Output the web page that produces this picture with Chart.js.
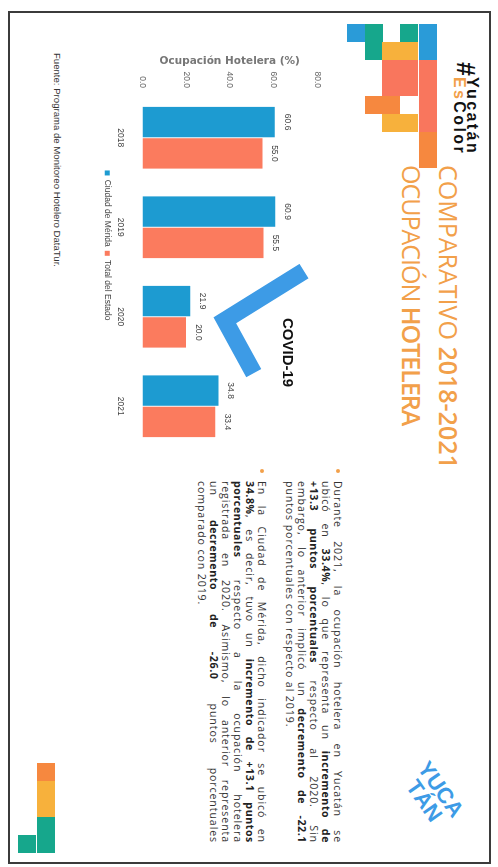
<!DOCTYPE html>
<html>
<head>
<meta charset="utf-8">
<script src="https://cdn.jsdelivr.net/npm/chart.js@4.4.0/dist/chart.umd.min.js"></script>
<style>
html, body { margin: 0; padding: 0; background: #fff; width: 498px; height: 867px; overflow: hidden; }
/* the sheet is laid out landscape, then turned a quarter clockwise like the scan */
#page { position: absolute; left: 0; top: 0; width: 867px; height: 498px; background: #fff;
  transform-origin: 0 0; transform: translate(498px, 0) rotate(90deg); font-family: 'Open Sans', sans-serif; }
#frame { position: absolute; left: 11px; top: 7px; width: 849px; height: 479px; border: 2px solid #3b3b3b; }
.cell { position: absolute; width: 18px; height: 18px; }
#tag { position: absolute; left: 62px; top: 19px; display: flex; align-items: center; font-family: 'Liberation Sans Narrow', 'Liberation Sans', Arial, sans-serif; font-weight: bold; color: #111; }
#tag .hash { font-size: 25px; line-height: 25px; margin-right: 1px; }
#tag .lines { font-size: 16px; line-height: 13px; letter-spacing: 2.4px; }
#tag .es { color: #f2a04a; }
#title { position: absolute; left: 165px; top: 31px; color: #f2a04a; font-size: 25px; line-height: 37px; white-space: nowrap; }
#title b { font-weight: 600; }
#title .l2 { letter-spacing: -1px; }
.para { position: absolute; left: 469px; width: 374px; font-size: 10.6px; line-height: 12px; color: #333; letter-spacing: 0.9px; }
.para .dot { position: absolute; left: 0; top: 4px; width: 4px; height: 4px; border-radius: 2px; background: #f2a04a; }
.para .ln { margin-left: 12px; text-align: justify; text-align-last: justify; white-space: nowrap; }
.para .ln.end { text-align-last: left; }
.para b { font-weight: bold; color: #222; letter-spacing: 0.6px; }
#source { position: absolute; left: 53px; top: 435px; font-family: 'Liberation Sans', Arial, sans-serif; font-size: 9.6px; color: #333; }
#chartBox { position: absolute; left: 40px; top: 165px; width: 430px; height: 240px; }
#yuc { position: absolute; left: 766px; top: 44px; width: 70px; height: 60px; color: #3d9be6; font-family: 'Liberation Sans', Arial, sans-serif; font-weight: bold; font-size: 22px; line-height: 20px; transform: rotate(-35deg); text-align: center; }
</style>
</head>
<body>
<div id="page">
  <div id="frame"></div>
  <div id="blocks"></div>
  <div id="tag"><span class="hash">#</span><span class="lines">Yucatán<br><span class="es">Es</span>Color</span></div>
  <div id="title">COMPARATIVO <b>2018-2021</b><br><span class="l2">OCUPACIÓN <b>HOTELERA</b></span></div>

  <div class="para" style="top:154px">
    <div class="dot"></div>
    <div class="ln">Durante 2021, la ocupación hotelera en Yucatán se</div>
    <div class="ln">ubicó en <b>33.4%</b>, lo que representa un <b>incremento de</b></div>
    <div class="ln"><b>+13.3 puntos porcentuales</b> respecto al 2020. Sin</div>
    <div class="ln">embargo, lo anterior implicó un <b>decremento de -22.1</b></div>
    <div class="ln end">puntos porcentuales con respecto al 2019.</div>
  </div>
  <div class="para" style="top:230px">
    <div class="dot"></div>
    <div class="ln">En la Ciudad de Mérida, dicho indicador se ubicó en</div>
    <div class="ln"><b>34.8%</b>, es decir, tuvo un <b>incremento de +13.1 puntos</b></div>
    <div class="ln"><b>porcentuales</b> respecto a la ocupación hotelera</div>
    <div class="ln">registrada en 2020. Asimismo, lo anterior representa</div>
    <div class="ln">un <b>decremento de -26.0</b> puntos porcentuales</div>
    <div class="ln end">comparado con 2019.</div>
  </div>

  <div id="chartBox"><canvas id="chart" width="430" height="240"></canvas></div>
  <div id="source">Fuente: Programa de Monitoreo Hotelero DataTur.</div>
  <div id="yuc">YUCA<br>TÁN</div>
</div>

<script>
// Chart data
const years = ['2018', '2019', '2020', '2021'];
const merida = [60.6, 60.9, 21.9, 34.8];
const estado = [55.0, 55.5, 20.0, 33.4];
const seriesNames = ['Ciudad de Mérida', 'Total del Estado'];
const axisTitle = 'Ocupación Hotelera (%)';
// covid mark, in chart units (category index, percent)
const covidPath = [[1.49, 74], [2.04, 37.7], [2.63, 51]];
const covidText = 'COVID-19';
const covidTextAt = [2.4, 66.5];

// Decorative squares (logo top and corner bottom)
const blue = '#2a9bd8', green = '#16a78c', yellow = '#f7b13c', salmon = '#f9765d', orange = '#f6883f';
const blocks = [
  [24, 133, blue], [24, 115, green], [24, 80, green], [24, 61, blue],
  [42, 115, green], [42, 98, yellow], [42, 80, yellow], [42, 61, blue],
  [60, 98, salmon], [60, 80, salmon], [60, 61, salmon],
  [78, 98, salmon], [78, 80, salmon], [78, 61, salmon],
  [96, 115, orange], [96, 98, orange], [96, 61, salmon],
  [114, 98, yellow], [114, 80, yellow], [114, 61, salmon],
  [132, 61, orange], [150, 61, orange],
  [763, 443, orange], [781, 443, yellow], [799, 443, yellow],
  [817, 443, green], [835, 443, green], [835, 462, green]
];
const holder = document.getElementById('blocks');
blocks.forEach(b => {
  const d = document.createElement('div');
  d.className = 'cell';
  d.style.left = b[0] + 'px';
  d.style.top = b[1] + 'px';
  d.style.background = b[2];
  holder.appendChild(d);
});

// value labels on top of the bars
const valueLabels = {
  id: 'valueLabels',
  afterDatasetsDraw(chart) {
    const ctx = chart.ctx;
    ctx.save();
    ctx.font = '8.5px "Liberation Sans Narrow", "Liberation Sans", Arial';
    ctx.fillStyle = '#444';
    ctx.textAlign = 'center';
    ctx.textBaseline = 'bottom';
    chart.data.datasets.forEach((ds, i) => {
      chart.getDatasetMeta(i).data.forEach((bar, j) => {
        ctx.fillText(ds.data[j].toFixed(1), bar.x, bar.y - 8);
      });
    });
    ctx.restore();
  }
};

// the blue covid check mark
const covidMark = {
  id: 'covidMark',
  afterDatasetsDraw(chart) {
    const ctx = chart.ctx;
    const x = chart.scales.x, y = chart.scales.y;
    ctx.save();
    ctx.strokeStyle = '#3d9be6';
    ctx.lineWidth = 17;
    ctx.lineJoin = 'miter';
    ctx.lineCap = 'butt';
    ctx.beginPath();
    covidPath.forEach((p, i) => {
      const px = x.getPixelForValue(p[0]), py = y.getPixelForValue(p[1]);
      if (i === 0) ctx.moveTo(px, py); else ctx.lineTo(px, py);
    });
    ctx.stroke();
    ctx.font = 'bold 15px "Liberation Sans", Arial';
    ctx.fillStyle = '#111';
    ctx.textAlign = 'center';
    ctx.textBaseline = 'middle';
    ctx.fillText(covidText, x.getPixelForValue(covidTextAt[0]), y.getPixelForValue(covidTextAt[1]));
    ctx.restore();
  }
};

const narrow = '"Liberation Sans Narrow", "Liberation Sans", Arial';

new Chart(document.getElementById('chart'), {
  type: 'bar',
  data: {
    labels: years,
    datasets: [
      { label: seriesNames[0], data: merida, backgroundColor: '#1d9bd1' },
      { label: seriesNames[1], data: estado, backgroundColor: '#fb7b5e' }
    ]
  },
  options: {
    responsive: false,
    animation: false,
    layout: { padding: { top: 16, right: 19, left: 0, bottom: 0 } },
    datasets: { bar: { categoryPercentage: 0.7, barPercentage: 0.97 } },
    scales: {
      x: {
        grid: { display: false, drawTicks: false },
        border: { display: false },
        ticks: { padding: 17, color: '#444', font: { family: narrow, size: 8.5 } },
        afterFit: s => { s.height = 27; }
      },
      y: {
        min: 0, max: 80,
        grid: { display: false, drawTicks: false },
        border: { display: false },
        ticks: { stepSize: 20, padding: 5, color: '#666', font: { family: narrow, size: 8.5 },
          callback: v => v.toFixed(1) },
        title: { display: true, text: axisTitle, color: '#777', padding: { top: 15, bottom: 0 },
          font: { family: '"DejaVu Sans", Verdana', size: 10.5, weight: 'bold' } },
        afterFit: s => { s.width = 53; }
      }
    },
    plugins: {
      legend: {
        position: 'bottom',
        labels: { boxWidth: 5, boxHeight: 5, padding: 4, color: '#444', font: { family: narrow, size: 8.5 } }
      },
      tooltip: { enabled: false }
    }
  },
  plugins: [valueLabels, covidMark]
});
</script>
</body>
</html>
